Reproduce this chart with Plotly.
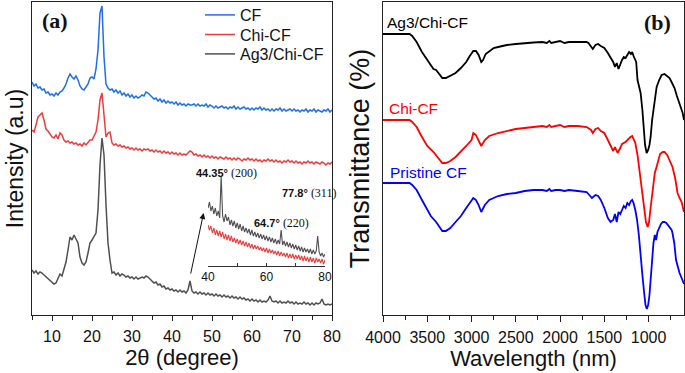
import plotly.graph_objects as go

# ---------------- XRD (panel a) ----------------
two_theta = [5 + 0.5 * i for i in range(151)]  # 5 .. 80 deg

cf = [
233,229,231,227,228,225,226,222,223,220,
221,219,222,220,223,224,227,231,237,241,
238,236,239,235,229,226,225,228,231,237,
238,236,246,265,302,309,258,231,227,225,
226,223,225,222,224,220,222,219,221,218,
220,217,219,217,218,220,219,223,222,220,
218,216,217,214,216,213,215,212,214,212,
213,211,213,210,212,210,211,209,211,210,
210,211,209,211,209,210,209,211,208,210,
209,207,209,207,208,209,207,208,206,208,
207,209,206,208,206,207,208,206,207,205,
207,205,207,206,208,205,207,205,206,204,
206,204,206,205,207,204,206,204,205,206,
204,206,204,205,203,205,204,206,203,205,
204,206,203,205,204,203,205,204,206,203,
205]

chi_cf = [
185,183,190,198,200,202,195,186,184,181,
178,177,180,176,182,180,175,173,174,172,
173,171,172,170,171,169,172,170,173,175,
175,179,183,195,215,222,200,178,182,183,
172,170,171,169,170,168,169,167,168,166,
167,165,167,165,166,164,166,165,166,164,
165,163,165,163,164,162,164,162,163,161,
163,161,162,160,162,160,161,160,162,164,
163,160,161,159,160,158,160,158,159,157,
159,157,158,156,158,157,156,158,156,157,
155,157,155,157,156,154,156,155,157,155,
156,154,156,154,155,153,155,154,156,154,
155,153,155,153,154,152,154,153,155,153,
154,152,154,152,153,151,153,152,154,152,
153,151,153,152,151,153,152,150,152,151,
153]

ag3_chi_cf = [
45,42,44,41,43,42,40,38,36,34,
33,31,32,36,41,39,46,53,65,78,
75,80,76,72,58,52,50,53,62,72,
75,78,82,105,150,177,160,110,72,55,
42,43,40,42,39,41,40,38,39,37,
38,36,38,36,37,38,37,39,38,36,
34,32,33,30,31,28,29,26,27,25,
26,24,25,23,25,23,24,22,25,34,
24,22,23,21,23,21,22,20,22,20,
21,19,21,19,20,18,20,18,19,17,
19,17,18,16,18,16,17,15,16,14,
16,14,15,13,15,13,14,13,15,19,
14,13,14,12,14,12,13,12,14,12,
13,11,13,11,12,11,13,11,12,10,
12,10,12,11,12,16,11,10,11,10,
11]

# inset (40-80 deg)
inset_theta = [40 + 0.5 * i for i in range(81)]
inset_ag3 = [
58,64,55,60,52,58,50,55,48,90,
50,44,52,45,49,41,46,40,45,38,
43,37,42,35,40,34,38,33,37,31,
36,30,34,29,33,28,32,27,31,26,
30,25,29,24,28,23,27,22,26,22,
36,21,25,20,24,19,23,18,22,17,
21,16,20,15,19,14,18,14,17,13,
17,12,16,12,15,30,14,10,13,9,
12]
inset_chi = [
41,36,40,33,38,31,36,30,35,29,
34,27,32,26,31,25,30,24,28,23,
27,22,26,21,25,20,24,19,23,18,
22,17,21,17,20,16,19,15,18,14,
18,13,17,13,16,12,15,11,15,10,
14,10,13,9,13,8,12,8,12,7,
11,7,11,6,10,5,10,5,9,4,
9,4,8,3,8,4,7,3,7,2,
6]

xrd_ticks = [10, 20, 30, 40, 50, 60, 70, 80]
inset_ticks = [40, 50, 60, 70, 80]
inset_ticktext = ["40", "", "60", "", "80"]

# ---------------- FTIR (panel b) ----------------
black_wn = [4000,3800,3700,3670,3620,3560,3500,3460,3430,3400,3370,3330,3290,3240,3180,
            3120,3060,3020,2980,2950,2920,2890,2870,2840,2800,2750,2700,2600,2500,2400,
            2300,2200,2150,2120,2100,2050,2000,1950,1900,1800,1700,1680,1650,1630,1600,
            1570,1540,1500,1460,1430,1400,1380,1360,1340,1320,1300,1280,1260,1240,1220,
            1200,1185,1170,1150,1140,1125,1110,1090,1070,1056,1040,1022,1005,990,977,
            960,943,925,909,880,853,820,790,763,735,707,680,650,615,600]
black_T = [281,281,281,279,273,263,255,249,246,245,241,237,237,239,242,
           247,253,259,264,264,260,253,255,261,264,267,268,270,271,272,
           272.5,273,272,274,272,273,274,272,273,273,273,272,269,266,270,
           271,269,267,262,257,253,248,252,246,251,255,258,257,260,263,
           261,263,259,255,253,235,228,222,205,185,170,162,165,170,178,
           195,205,218,228,235,240,241,239,237,232,227,219,212,202,195]

red_wn = [4000,3800,3700,3670,3620,3560,3500,3430,3400,3330,3290,3240,3180,3120,3060,
          3000,2980,2950,2920,2890,2850,2800,2700,2600,2500,2400,2300,2200,2150,2120,
          2100,2050,2000,1950,1900,1800,1700,1650,1630,1600,1570,1540,1500,1460,1430,
          1400,1380,1350,1320,1300,1260,1240,1205,1185,1170,1150,1125,1110,1090,1070,
          1050,1030,1010,995,980,960,945,930,910,890,870,840,820,790,763,
          730,700,673,650,627,600]
red_T = [195,195,195,193,188,178,169,163,160,152,152,154,158,163,169,
         175,182,180,175,169,175,179,182,184,186,187,188,189,188,190,
         188,189,190,188,189,189,188,185,182,186,187,184,182,175,169,
         164,168,162,167,171,173,175,178,179,175,172,160,150,135,120,
         105,93,88,93,105,118,130,142,148,155,161,163,163,160,155,
         148,137,122,117,113,103]

blue_wn = [4000,3800,3700,3670,3620,3560,3500,3460,3400,3330,3290,3240,3180,3120,3060,
           3000,2980,2950,2920,2890,2850,2800,2750,2700,2600,2500,2400,2300,2200,2150,
           2120,2100,2050,2000,1950,1900,1800,1700,1670,1640,1600,1570,1540,1500,1460,
           1430,1400,1380,1360,1340,1320,1300,1280,1260,1240,1220,1200,1185,1170,1150,
           1130,1110,1090,1070,1050,1035,1020,1005,990,975,960,945,930,915,900,
           880,860,840,820,800,780,760,740,730,710,690,673,650,627,600]
blue_T = [132,132,132,130,125,115,105,99,93,84,84,87,93,99,107,
          115,117,115,110,103,110,115,117,119,121,122,124,125,125,124,
          126,124,125,125,124,125,124,123,120,117,120,119,115,107,97,
          93,95,101,93,103,101,105,109,107,112,110,114,115,112,105,
          95,80,55,40,22,10,6,10,20,40,60,72,80,75,83,
          88,91,93,93,92,90,88,85,82,72,55,48,42,37,31]

ftir_ticks = [4000, 3500, 3000, 2500, 2000, 1500, 1000]

FONT = "Liberation Sans, Arial, sans-serif"
SERIF = "Liberation Serif, Times New Roman, serif"
W, H = 685, 373

fig = go.Figure()

# panel a (each series gets its own one-entry legend so rows can be spaced like the original)
fig.add_trace(go.Scatter(x=two_theta, y=cf, name="CF", mode="lines", legend="legend",
                         line=dict(color="#1f6fe6", width=1.5), xaxis="x", yaxis="y"))
fig.add_trace(go.Scatter(x=two_theta, y=chi_cf, name="Chi-CF", mode="lines", legend="legend2",
                         line=dict(color="#ef3b3b", width=1.5), xaxis="x", yaxis="y"))
fig.add_trace(go.Scatter(x=two_theta, y=ag3_chi_cf, name="Ag3/Chi-CF", mode="lines",
                         legend="legend3",
                         line=dict(color="#505050", width=1.5), xaxis="x", yaxis="y"))
# inset
fig.add_trace(go.Scatter(x=inset_theta, y=inset_ag3, mode="lines", showlegend=False,
                         line=dict(color="#505050", width=1.1), xaxis="x3", yaxis="y3"))
fig.add_trace(go.Scatter(x=inset_theta, y=inset_chi, mode="lines", showlegend=False,
                         line=dict(color="#ef3b3b", width=1.1), xaxis="x3", yaxis="y3"))
# panel b
fig.add_trace(go.Scatter(x=black_wn, y=black_T, mode="lines", showlegend=False,
                         line=dict(color="#000000", width=1.8), xaxis="x2", yaxis="y2"))
fig.add_trace(go.Scatter(x=red_wn, y=red_T, mode="lines", showlegend=False,
                         line=dict(color="#ff0000", width=1.8), xaxis="x2", yaxis="y2"))
fig.add_trace(go.Scatter(x=blue_wn, y=blue_T, mode="lines", showlegend=False,
                         line=dict(color="#0000ff", width=1.8), xaxis="x2", yaxis="y2"))

axis_line = dict(showline=True, linecolor="#222", linewidth=1.3, mirror=True,
                 showgrid=False, zeroline=False, automargin=False)

def leg(ypx):
    return dict(x=200 / W, y=(315 - ypx) / 313, xanchor="left", yanchor="middle",
                font=dict(size=16, family=FONT, color="#111"), bgcolor="rgba(0,0,0,0)",
                borderwidth=0, itemwidth=30)

fig.update_layout(
    width=W, height=H,
    margin=dict(l=0, r=0, t=2, b=58, autoexpand=False),
    paper_bgcolor="white", plot_bgcolor="rgba(0,0,0,0)",
    font=dict(family=FONT, color="#111"),
    showlegend=True,
    legend=leg(15), legend2=leg(34.5), legend3=leg(54),
    xaxis=dict(domain=[32 / W, 332 / W], range=[5, 80], anchor="y",
               tickvals=xrd_ticks, ticks="outside", ticklen=5, tickwidth=1.2,
               tickcolor="#222", tickfont=dict(size=16), ticklabelstandoff=2,
               minor=dict(dtick=5, tick0=0, ticks="outside", ticklen=4, tickcolor="#222"),
               title=dict(text="2θ (degree)", font=dict(size=22), standoff=2),
               **axis_line),
    yaxis=dict(domain=[0, 1], range=[0, 313], anchor="x", showticklabels=False,
               ticks="", title=dict(text="Intensity (a.u)", font=dict(size=23), standoff=0),
               **axis_line),
    xaxis2=dict(domain=[383 / W, 684 / W], range=[4000, 600], anchor="y2",
                tickvals=ftir_ticks, ticks="outside", ticklen=6, tickwidth=1.2,
                tickcolor="#222", tickfont=dict(size=16), ticklabelstandoff=2,
                minor=dict(dtick=250, tick0=0, ticks="outside", ticklen=4, tickcolor="#222"),
                title=dict(text="Wavelength (nm)", font=dict(size=22), standoff=2),
                **axis_line),
    yaxis2=dict(domain=[0, 1], range=[0, 313], anchor="x2", showticklabels=False,
                ticks="outside", ticklen=4, tickcolor="rgba(0,0,0,0)",
                title=dict(text="Transmittance (%)", font=dict(size=27), standoff=0),
                **axis_line),
    xaxis3=dict(domain=[208 / W, 325 / W], range=[40, 80], anchor="y3",
                tickvals=inset_ticks, ticktext=inset_ticktext, ticks="inside",
                ticklen=3, tickcolor="#333", tickfont=dict(size=12),
                showline=True, linecolor="#333", linewidth=1, mirror=False,
                showgrid=False, zeroline=False, automargin=False),
    yaxis3=dict(domain=[(315 - 266) / 313, (315 - 174) / 313], range=[0, 92],
                anchor="x3", visible=False),
)

ann = []
ann.append(dict(text="<b>(a)</b>", xref="x domain", yref="y domain", x=0.027, y=0.942,
                xanchor="left", yanchor="middle", showarrow=False,
                font=dict(family=SERIF, size=22, color="#111")))
ann.append(dict(text="<b>(b)</b>", xref="x2 domain", yref="y2 domain", x=0.965, y=0.936,
                xanchor="right", yanchor="middle", showarrow=False,
                font=dict(family=SERIF, size=22, color="#111")))
for txt, color, xx, yy in [("Ag3/Chi-CF", "#000000", 0.007, 0.933),
                           ("Chi-CF", "#ff0000", 0.013, 0.661),
                           ("Pristine CF", "#0000ff", 0.017, 0.454)]:
    ann.append(dict(text=txt, xref="x2 domain", yref="y2 domain", x=xx, y=yy,
                    xanchor="left", yanchor="middle", showarrow=False,
                    font=dict(size=15.5, color=color)))
for bold, hkl, xx, yy in [("44.35°", "(200)", 45.6, 142),
                          ("77.8°", "(311)", 66.9, 122),
                          ("64.7°", "(220)", 60.0, 92)]:
    ann.append(dict(text=f"<b>{bold}</b> <span style='font-family:Liberation Serif;font-size:12px'>{hkl}</span>",
                    xref="x", yref="y", x=xx, y=yy, xanchor="left", yanchor="middle",
                    showarrow=False, font=dict(size=11, color="#111")))
ann.append(dict(text="", xref="x", yref="y", x=47.9, y=102, axref="x", ayref="y",
                ax=44.6, ay=40, showarrow=True, arrowhead=2, arrowsize=1.2,
                arrowwidth=1, arrowcolor="#111"))
fig.update_layout(annotations=ann)

fig.write_html("out.html", config={"displayModeBar": False},
               post_script="document.body.style.margin='0px';")
